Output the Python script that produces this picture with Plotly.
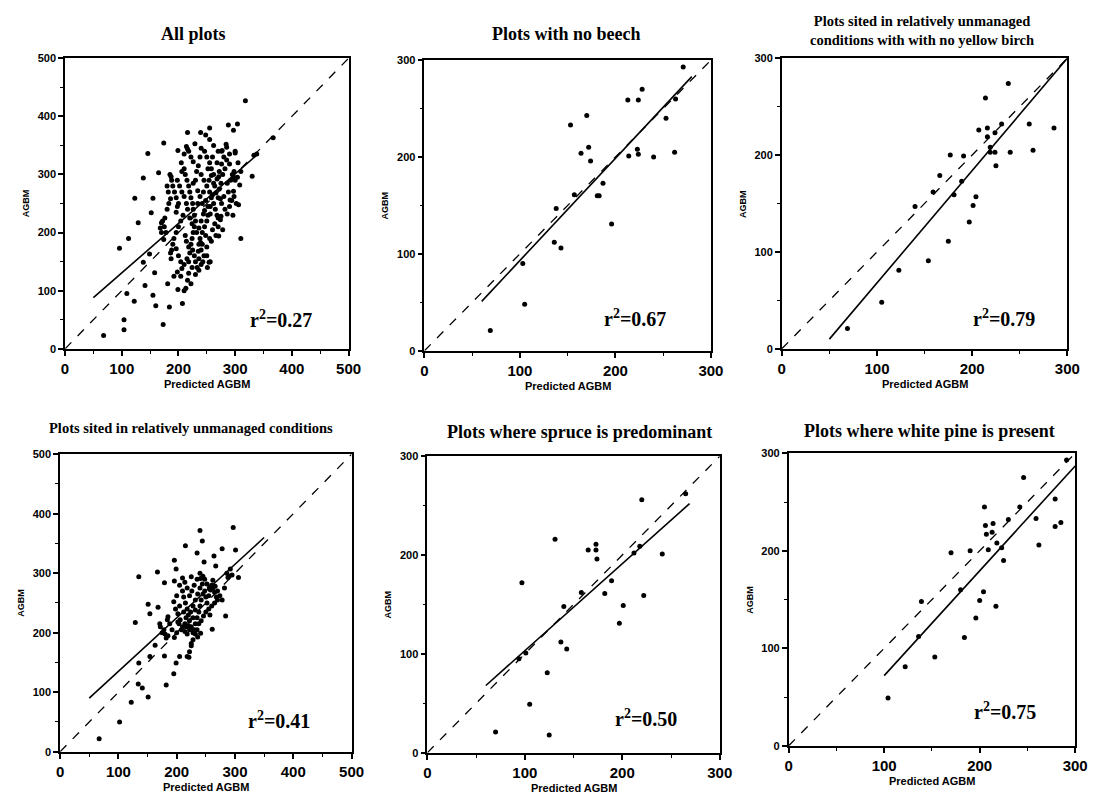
import plotly.graph_objects as go

# ---------------- data ----------------
titles = ["All plots", "Plots with no beech",
          "Plots sited in relatively unmanaged<br>conditions with with no yellow birch",
          "Plots sited in relatively unmanaged conditions",
          "Plots where spruce is predominant", "Plots where white pine is present"]
r2_labels = ["0.27", "0.67", "0.79", "0.41", "0.50", "0.75"]
axis_max = [500, 300, 300, 500, 300, 300]
tick_step = [100, 100, 100, 100, 100, 100]

pts_all = [
    (318, 427), (288, 385), (304, 387), (297, 376), (367, 363), (333, 333), (338, 335), (330, 297),
    (310, 190), (300, 337), (285, 347), (277, 341), (174, 354), (146, 336), (138, 294), (123, 259),
    (129, 217), (112, 190), (96, 173), (165, 303), (155, 259), (152, 234), (170, 217), (138, 149),
    (141, 109), (155, 92), (160, 74), (184, 72), (109, 95), (122, 82), (104, 50), (104, 33), (68, 23),
    (173, 42), (207, 78), (181, 112), (199, 102), (213, 104), (204, 125), (158, 131), (187, 155),
    (149, 163), (216, 372), (239, 372), (255, 380), (199, 341), (216, 344), (229, 353), (271, 296),
    (297, 296), (306, 248), (291, 256), (297, 271), (274, 222), (271, 194), (254, 149), (251, 140),
    (239, 183), (187, 296),
    (205, 320), (210, 310), (212, 300), (215, 290), (218, 280), (220, 270), (222, 260), (225, 250),
    (226, 240), (228, 230), (230, 220), (228, 210), (226, 200), (224, 190), (222, 180), (225, 170),
    (228, 160), (230, 150), (233, 140), (236, 135), (240, 145), (245, 290), (250, 280), (255, 270),
    (258, 260), (262, 250), (265, 240), (268, 230), (270, 260), (272, 275), (275, 285), (278, 300),
    (282, 310), (285, 325), (290, 318), (295, 300), (300, 290), (288, 270), (280, 262), (276, 250),
    (262, 300), (258, 310), (255, 320), (250, 330), (246, 340), (240, 345), (238, 330), (235, 315),
    (232, 305), (240, 300), (244, 270), (248, 255), (252, 245), (256, 232), (250, 220), (246, 210),
    (242, 200), (238, 190), (236, 180), (240, 170), (245, 160), (250, 175), (255, 190), (260, 205),
    (264, 215), (270, 225), (275, 228), (282, 240), (286, 232), (290, 245), (294, 255), (298, 262),
    (302, 250), (296, 230), (278, 205), (270, 210), (266, 195), (258, 185), (200, 250), (196, 260),
    (193, 270), (190, 280), (188, 290), (185, 300), (198, 290), (202, 280), (206, 270), (210, 262),
    (214, 250), (216, 240), (208, 230), (204, 220), (200, 210), (196, 200), (192, 190), (190, 180),
    (188, 170), (186, 165), (178, 200), (175, 210), (172, 220), (180, 240), (183, 250), (186, 258),
    (174, 188), (170, 200), (168, 208), (176, 225), (182, 270), (180, 280), (196, 235), (198, 245),
    (212, 195), (214, 185), (218, 175), (220, 165), (215, 155), (210, 145), (206, 138), (218, 130),
    (224, 140), (230, 128), (236, 155), (242, 180), (248, 195), (252, 230), (256, 245), (260, 265),
    (264, 280), (268, 292), (272, 305), (276, 318), (280, 330), (270, 340), (262, 350), (255, 360),
    (248, 368), (226, 322), (222, 330), (218, 340), (214, 348), (210, 335), (206, 305), (234, 272),
    (238, 262), (242, 250), (246, 238), (230, 290), (226, 285), (234, 250), (220, 225), (224, 215),
    (232, 200), (236, 208), (240, 220), (244, 232), (254, 290), (258, 298), (262, 285), (266, 268),
    (274, 258), (286, 285), (292, 290), (298, 305), (304, 295), (308, 282), (260, 330), (268, 320),
    (276, 340), (284, 352), (300, 340), (305, 320), (310, 305), (290, 335), (252, 310), (196, 172),
    (200, 160), (204, 150), (198, 132), (192, 125), (216, 118), (222, 112), (210, 100), (218, 150),
    (235, 168), (243, 150), (250, 160), (256, 150),
]
pts_nobeech = [
    (271, 293), (228, 270), (213, 259), (224, 259), (263, 260), (253, 240), (170, 243), (153, 233),
    (172, 210), (164, 204), (174, 196), (214, 201), (223, 208), (224, 203), (240, 200), (262, 205),
    (187, 173), (181, 160), (157, 161), (138, 147), (196, 131), (136, 112), (143, 106), (103, 90),
    (105, 48), (69, 21), (183, 160),
]
pts_noyb = [
    (238, 274), (214, 259), (260, 232), (231, 232), (216, 228), (207, 226), (286, 228), (224, 223),
    (216, 219), (219, 208), (219, 203), (224, 203), (240, 203), (264, 205), (177, 200), (191, 199),
    (225, 189), (166, 179), (189, 173), (159, 162), (181, 159), (204, 157), (140, 147), (201, 148),
    (197, 131), (175, 111), (154, 91), (123, 81), (105, 48), (69, 21),
]
pts_unman = [
    (297, 377), (240, 372), (244, 354), (215, 346), (235, 334), (264, 329), (278, 341), (301, 339),
    (196, 322), (199, 307), (247, 319), (167, 302), (135, 294), (225, 294), (196, 287), (179, 284),
    (267, 312), (292, 307), (306, 293), (288, 293), (241, 291), (151, 248), (168, 243), (154, 232),
    (129, 217), (284, 228), (261, 206), (257, 230), (182, 191), (163, 179), (179, 161), (199, 149),
    (154, 160), (205, 160), (221, 159), (195, 131), (135, 149), (134, 114), (141, 107), (151, 92),
    (182, 112), (122, 83), (102, 50), (67, 22), (236, 193), (225, 182), (241, 199), (216, 210),
    (202, 218), (185, 227), (171, 215),
    (205, 280), (210, 270), (212, 260), (215, 250), (218, 240), (220, 230), (222, 220), (225, 210),
    (228, 200), (230, 205), (232, 215), (235, 225), (238, 235), (240, 245), (242, 255), (245, 265),
    (248, 270), (250, 260), (252, 250), (255, 262), (258, 272), (260, 280), (262, 275), (265, 268),
    (268, 260), (270, 255), (265, 250), (260, 245), (255, 240), (250, 235), (246, 228), (242, 220),
    (238, 215), (235, 205), (232, 198), (228, 188), (225, 178), (222, 168), (218, 160), (214, 202),
    (210, 210), (206, 222), (202, 232), (198, 240), (195, 252), (200, 262), (205, 245), (212, 235),
    (216, 225), (220, 212), (224, 235), (228, 245), (232, 255), (236, 265), (240, 275), (244, 282),
    (248, 290), (252, 282), (256, 275), (262, 288), (266, 278), (270, 270), (274, 262), (278, 255),
    (282, 275), (286, 300), (290, 295), (295, 297), (230, 280), (226, 270), (222, 262), (218, 275),
    (214, 285), (210, 292), (235, 290), (240, 300), (245, 295), (232, 238), (228, 225), (222, 205),
    (218, 198), (214, 215), (208, 205), (204, 215), (200, 200), (196, 192), (192, 205), (188, 215),
    (184, 222), (178, 205), (175, 200), (172, 210), (185, 195), (180, 198),
]
pts_spruce = [
    (220, 256), (265, 262), (131, 216), (173, 211), (173, 205), (165, 205), (174, 196), (241, 201),
    (212, 202), (218, 209), (97, 172), (189, 174), (158, 162), (182, 161), (222, 159), (201, 149),
    (140, 148), (197, 131), (137, 112), (143, 105), (94, 95), (101, 101), (123, 81), (105, 49),
    (70, 21), (125, 18),
]
pts_wpine = [
    (291, 293), (246, 275), (205, 245), (242, 245), (279, 253), (230, 232), (259, 233), (206, 226),
    (214, 228), (285, 229), (279, 225), (207, 217), (213, 219), (218, 208), (262, 206), (223, 203),
    (209, 201), (170, 198), (190, 200), (225, 190), (180, 160), (204, 158), (139, 148), (200, 149),
    (217, 143), (196, 131), (184, 111), (136, 112), (153, 91), (122, 81), (104, 49),
]
all_points = [pts_all, pts_nobeech, pts_noyb, pts_unman, pts_spruce, pts_wpine]

# solid regression line end points
fit_x = [[50, 340], [60, 280], [50, 300], [50, 350], [60, 269], [100, 300]]
fit_y = [[88, 335], [51, 283], [10, 300], [90, 360], [68, 252], [72, 287]]
# dashed 1:1 line
diag_x = [[0, 500], [0, 300], [0, 300], [0, 500], [0, 300], [0, 300]]
diag_y = [[0, 500], [0, 300], [0, 300], [0, 500], [0, 300], [0, 300]]
# r^2 label positions (data units)
r2_x = [380, 220, 233, 375, 224, 227]
r2_y = [52, 34, 32, 53, 35, 36]

# ---------------- layout geometry (pixels) ----------------
W, H = 1100, 806
boxes = [(62, 53, 350, 348), (427, 55, 718, 350), (790, 53, 1080, 348),
         (57, 455, 353, 757), (430, 457, 727, 758), (797, 454, 1088, 751)]
title_pos = [(192, 28, 18), (571, 28, 18), (932, 25, 14.5),
             (190, 428, 14.5), (585, 432, 18), (940, 431, 18)]


def fx(p):
    return p / W


def fy(p):
    return 1 - p / H


fig = go.Figure()
layout = dict(width=W, height=H, margin=dict(l=0, r=0, t=0, b=0),
              paper_bgcolor="white", plot_bgcolor="white", showlegend=False)
annotations = []

xtick_font = dict(family="Liberation Sans, Arial", size=15, color="black", weight="bold")
ytick_font = dict(family="Liberation Sans, Arial", size=11, color="black", weight="bold")
xlab_font = dict(family="Liberation Sans, Arial", size=11, color="black", weight="bold")
ylab_font = dict(family="Liberation Sans, Arial", size=9, color="black", weight="bold")

for i in range(6):
    n = "" if i == 0 else str(i + 1)
    xa, ya = "x" + n, "y" + n
    x0, y0, x1, y1 = boxes[i]
    m = axis_max[i]
    common = dict(range=[0, m], showgrid=False, zeroline=False, showline=True, mirror=True,
                  linecolor="black", linewidth=1.6, ticks="outside", ticklen=5, tickwidth=1.5,
                  tickcolor="black", dtick=tick_step[i], tick0=0,
                  minor=dict(dtick=50, ticks="outside", ticklen=3, tickcolor="black", tickwidth=1),
                  fixedrange=True)
    layout["xaxis" + n] = dict(domain=[fx(x0), fx(x1)], anchor=ya, tickfont=xtick_font, **common)
    layout["yaxis" + n] = dict(domain=[fy(y1), fy(y0)], anchor=xa, tickfont=ytick_font, **common)

    px_, py_ = zip(*all_points[i])
    fig.add_trace(go.Scatter(x=list(px_), y=list(py_), mode="markers", xaxis=xa, yaxis=ya,
                             marker=dict(color="black", size=5, symbol="circle"),
                             cliponaxis=True))
    fig.add_trace(go.Scatter(x=diag_x[i], y=diag_y[i], mode="lines", xaxis=xa, yaxis=ya,
                             line=dict(color="black", width=1.3, dash="dash")))
    fig.add_trace(go.Scatter(x=fit_x[i], y=fit_y[i], mode="lines", xaxis=xa, yaxis=ya,
                             line=dict(color="black", width=1.6)))

    tx, ty, ts = title_pos[i]
    annotations.append(dict(x=fx(tx), y=fy(ty), xref="paper", yref="paper", text="<b>%s</b>" % titles[i],
                            showarrow=False, xanchor="center", yanchor="middle",
                            font=dict(family="Liberation Serif, Times New Roman", size=ts, color="black")))
    annotations.append(dict(x=fx((x0 + x1) / 2), y=fy(y1 + 36), xref="paper", yref="paper",
                            text="Predicted AGBM", showarrow=False, xanchor="center", yanchor="middle",
                            font=xlab_font))
    annotations.append(dict(x=fx(x0 - 40), y=fy((y0 + y1) / 2), xref="paper", yref="paper",
                            text="AGBM", showarrow=False, textangle=-90, xanchor="center",
                            yanchor="middle", font=ylab_font))
    annotations.append(dict(x=r2_x[i], y=r2_y[i], xref=xa, yref=ya,
                            text="<b>r<sup>2</sup>=" + r2_labels[i] + "</b>", showarrow=False,
                            xanchor="center", yanchor="middle",
                            font=dict(family="Liberation Serif, Times New Roman", size=20, color="black")))

layout["annotations"] = annotations
fig.update_layout(**layout)
fig.write_html("out.html", config={"displayModeBar": False},
               post_script="document.body.style.margin='0';document.body.style.overflow='hidden';")
